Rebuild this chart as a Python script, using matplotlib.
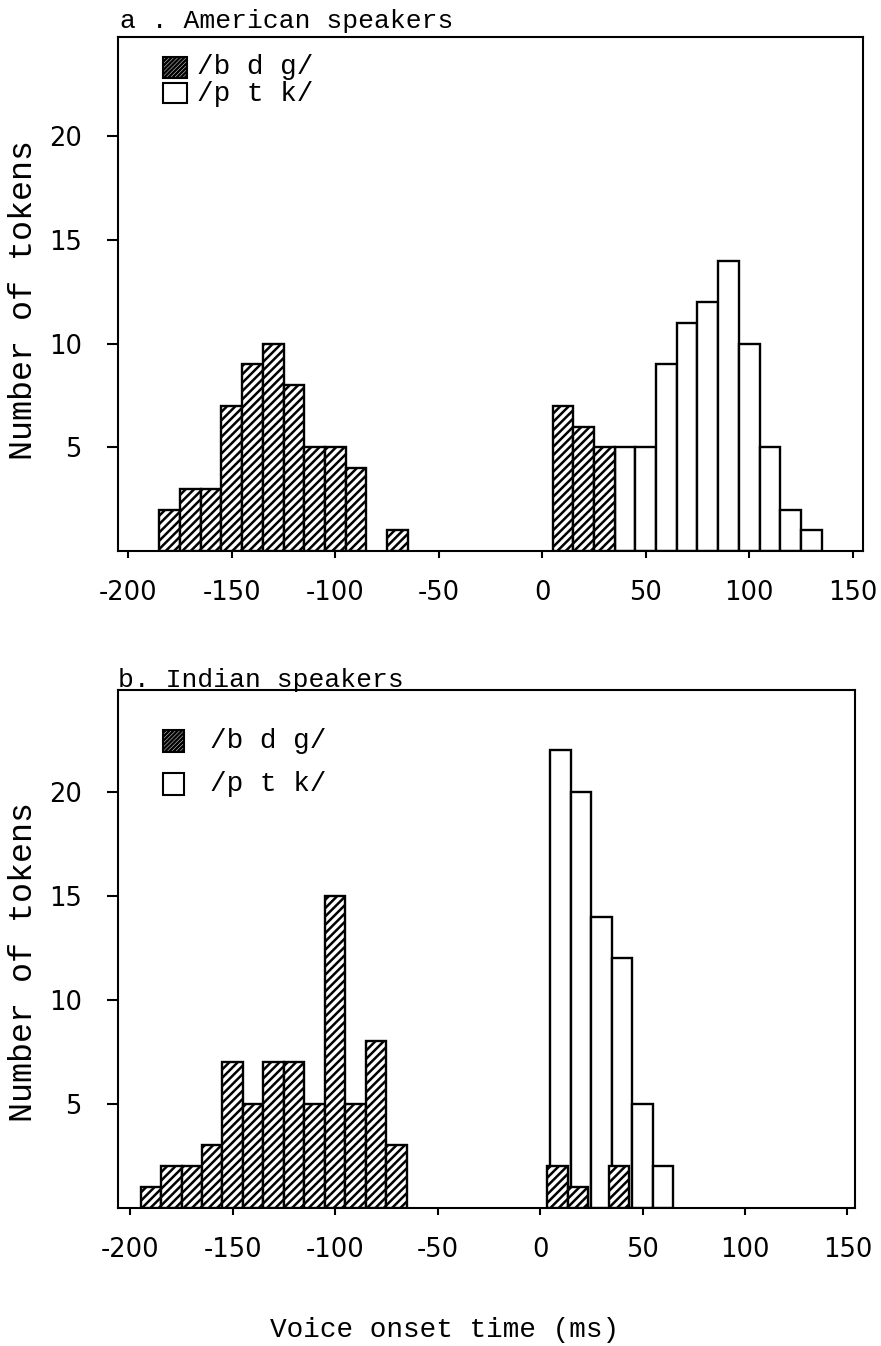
import matplotlib
matplotlib.use("Agg")
import matplotlib.pyplot as plt
from matplotlib.patches import Rectangle

plt.rcParams['axes.unicode_minus'] = False
plt.rcParams['hatch.linewidth'] = 1.8

# ---- data (bin centres in ms, counts) ----
a_bdg_x = [-180, -170, -160, -150, -140, -130, -120, -110, -100, -90, -70, 10, 20, 30]
a_bdg_n = [2, 3, 3, 7, 9, 10, 8, 5, 5, 4, 1, 7, 6, 5]
a_ptk_x = [40, 50, 60, 70, 80, 90, 100, 110, 120, 130]
a_ptk_n = [5, 5, 9, 11, 12, 14, 10, 5, 2, 1]

b_bdg_x = [-190, -180, -170, -160, -150, -140, -130, -120, -110, -100, -90, -80, -70, 10, 20, 40]
b_bdg_n = [1, 2, 2, 3, 7, 5, 7, 7, 5, 15, 5, 8, 3, 2, 1, 2]
b_ptk_x = [10, 20, 30, 40, 50, 60]
b_ptk_n = [22, 20, 14, 12, 5, 2]

xticks = [-200, -150, -100, -50, 0, 50, 100, 150]
yticks = [5, 10, 15, 20]
legend_labels = ['/b d g/', '/p t k/']
titles = ['a . American speakers', 'b. Indian speakers']
xlabel = 'Voice onset time (ms)'
ylabel = 'Number of tokens'

MONO = 'Liberation Mono'
MW = 'normal'
SANS = 'DejaVu Sans'
HATCH = '////'
BW = 10

W, H = 881, 1346
fig = plt.figure(figsize=(W / 100, H / 100), dpi=100)


def fr(x0, y0, x1, y1):
    return [x0 / W, 1 - y1 / H, (x1 - x0) / W, (y1 - y0) / H]


ax_a = fig.add_axes(fr(118, 37, 863, 551))
ax_b = fig.add_axes(fr(118, 690, 855, 1207.5))


def draw(ax, bdg_x, bdg_n, ptk_x, ptk_n, xlim, ylim, shift=None):
    ax.bar(ptk_x, ptk_n, width=BW, facecolor='white', edgecolor='black',
           linewidth=1.7, zorder=2)
    bx = list(bdg_x)
    if shift is not None:
        bx = [v + shift if v > 0 else v for v in bx]
    ax.bar(bx, bdg_n, width=BW, facecolor='white', edgecolor='black',
           hatch=HATCH, linewidth=1.7, zorder=3)
    ax.set_xlim(*xlim)
    ax.set_ylim(*ylim)
    ax.set_xticks(xticks)
    ax.set_yticks(yticks)
    for s in ax.spines.values():
        s.set_linewidth(1.5)
    ax.tick_params(axis='x', direction='out', length=5, width=1.5, pad=16,
                   labelsize=18.5)
    ax.tick_params(axis='y', direction='out', length=8, width=1.5, pad=18,
                   labelsize=18.5)
    for lab in ax.get_xticklabels() + ax.get_yticklabels():
        lab.set_family(SANS)


draw(ax_a, a_bdg_x, a_bdg_n, a_ptk_x, a_ptk_n, (-205, 155), (0, 24.8))
draw(ax_b, b_bdg_x, b_bdg_n, b_ptk_x, b_ptk_n, (-206, 153.7), (0, 24.9), shift=-1.5)


def legend(ax, sq, ys, tx):
    for (y0, y1), hatch, lab, yc in zip(sq[1], [HATCH * 2, None], legend_labels, ys):
        r = Rectangle((sq[0][0], y0), sq[0][1] - sq[0][0], y1 - y0,
                      transform=ax.transAxes, facecolor='white',
                      edgecolor='black', linewidth=1.5, hatch=hatch, zorder=5)
        ax.add_patch(r)
        ax.text(tx, yc, lab, transform=ax.transAxes, family=MONO, fontsize=20,
                weight=MW, va='center', ha='left')


legend(ax_a, ((0.060, 0.093), [(0.920, 0.961), (0.872, 0.910)]), [0.942, 0.889], 0.106)
legend(ax_b, ((0.061, 0.089), [(0.880, 0.923), (0.797, 0.840)]), [0.901, 0.818], 0.125)

fig.text(120 / W, 1 - 28 / H, titles[0], family=MONO, fontsize=19, weight=MW,
         ha='left', va='baseline')
fig.text(118 / W, 1 - 687 / H, titles[1], family=MONO, fontsize=19, weight=MW,
         ha='left', va='baseline')

fig.text(24 / W, 1 - 300 / H, ylabel, family=MONO, fontsize=24, weight=MW,
         rotation=90, ha='center', va='center')
fig.text(24 / W, 1 - 962 / H, ylabel, family=MONO, fontsize=24, weight=MW,
         rotation=90, ha='center', va='center')
fig.text(445 / W, 1 - 1337 / H, xlabel, family=MONO, fontsize=20, weight=MW,
         ha='center', va='baseline')

fig.savefig('out.png', dpi=100)
